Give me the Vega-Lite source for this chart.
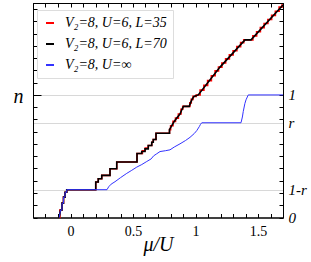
{
  "$schema": "https://vega.github.io/schema/vega-lite/v6.json",
  "width": 250,
  "height": 214.5,
  "autosize": {"type": "none"},
  "padding": {"left": 33, "top": 3, "right": 28, "bottom": 44.5},
  "config": {
    "view": {"stroke": "black", "strokeWidth": 1},
    "font": "Liberation Serif",
    "axis": {"domainColor": "black", "tickColor": "black", "domainWidth": 1, "tickWidth": 1, "labelColor": "black", "titleColor": "black", "labelFont": "Liberation Serif", "titleFont": "Liberation Serif"}
  },
  "data": {"values": [
    {"k":"a","s":"V₂=8, U=6, L=35","i":0,"mu":-0.090,"n":0},
    {"k":"a","s":"V₂=8, U=6, L=35","i":1,"mu":-0.080,"n":0.061},
    {"k":"a","s":"V₂=8, U=6, L=35","i":2,"mu":-0.068,"n":0.061},
    {"k":"a","s":"V₂=8, U=6, L=35","i":3,"mu":-0.068,"n":0.117},
    {"k":"a","s":"V₂=8, U=6, L=35","i":4,"mu":-0.056,"n":0.117},
    {"k":"a","s":"V₂=8, U=6, L=35","i":5,"mu":-0.056,"n":0.166},
    {"k":"a","s":"V₂=8, U=6, L=35","i":6,"mu":-0.044,"n":0.166},
    {"k":"a","s":"V₂=8, U=6, L=35","i":7,"mu":-0.044,"n":0.206},
    {"k":"a","s":"V₂=8, U=6, L=35","i":8,"mu":-0.030,"n":0.206},
    {"k":"a","s":"V₂=8, U=6, L=35","i":9,"mu":-0.030,"n":0.227},
    {"k":"a","s":"V₂=8, U=6, L=35","i":10,"mu":0.202,"n":0.227},
    {"k":"a","s":"V₂=8, U=6, L=35","i":11,"mu":0.202,"n":0.290},
    {"k":"a","s":"V₂=8, U=6, L=35","i":12,"mu":0.222,"n":0.290},
    {"k":"a","s":"V₂=8, U=6, L=35","i":13,"mu":0.222,"n":0.316},
    {"k":"a","s":"V₂=8, U=6, L=35","i":14,"mu":0.250,"n":0.316},
    {"k":"a","s":"V₂=8, U=6, L=35","i":15,"mu":0.250,"n":0.344},
    {"k":"a","s":"V₂=8, U=6, L=35","i":16,"mu":0.316,"n":0.344},
    {"k":"a","s":"V₂=8, U=6, L=35","i":17,"mu":0.316,"n":0.398},
    {"k":"a","s":"V₂=8, U=6, L=35","i":18,"mu":0.370,"n":0.398},
    {"k":"a","s":"V₂=8, U=6, L=35","i":19,"mu":0.370,"n":0.453},
    {"k":"a","s":"V₂=8, U=6, L=35","i":20,"mu":0.532,"n":0.453},
    {"k":"a","s":"V₂=8, U=6, L=35","i":21,"mu":0.532,"n":0.522},
    {"k":"a","s":"V₂=8, U=6, L=35","i":22,"mu":0.575,"n":0.522},
    {"k":"a","s":"V₂=8, U=6, L=35","i":23,"mu":0.575,"n":0.545},
    {"k":"a","s":"V₂=8, U=6, L=35","i":24,"mu":0.598,"n":0.545},
    {"k":"a","s":"V₂=8, U=6, L=35","i":25,"mu":0.598,"n":0.566},
    {"k":"a","s":"V₂=8, U=6, L=35","i":26,"mu":0.622,"n":0.566},
    {"k":"a","s":"V₂=8, U=6, L=35","i":27,"mu":0.622,"n":0.587},
    {"k":"a","s":"V₂=8, U=6, L=35","i":28,"mu":0.650,"n":0.587},
    {"k":"a","s":"V₂=8, U=6, L=35","i":29,"mu":0.650,"n":0.614},
    {"k":"a","s":"V₂=8, U=6, L=35","i":30,"mu":0.662,"n":0.614},
    {"k":"a","s":"V₂=8, U=6, L=35","i":31,"mu":0.662,"n":0.636},
    {"k":"a","s":"V₂=8, U=6, L=35","i":32,"mu":0.684,"n":0.636},
    {"k":"a","s":"V₂=8, U=6, L=35","i":33,"mu":0.684,"n":0.687},
    {"k":"a","s":"V₂=8, U=6, L=35","i":34,"mu":0.792,"n":0.687},
    {"k":"a","s":"V₂=8, U=6, L=35","i":35,"mu":0.792,"n":0.717},
    {"k":"a","s":"V₂=8, U=6, L=35","i":36,"mu":0.810,"n":0.749},
    {"k":"a","s":"V₂=8, U=6, L=35","i":37,"mu":0.830,"n":0.784},
    {"k":"a","s":"V₂=8, U=6, L=35","i":38,"mu":0.850,"n":0.811},
    {"k":"a","s":"V₂=8, U=6, L=35","i":39,"mu":0.876,"n":0.844},
    {"k":"a","s":"V₂=8, U=6, L=35","i":40,"mu":0.892,"n":0.883},
    {"k":"a","s":"V₂=8, U=6, L=35","i":41,"mu":0.904,"n":0.907},
    {"k":"a","s":"V₂=8, U=6, L=35","i":42,"mu":0.950,"n":0.907},
    {"k":"a","s":"V₂=8, U=6, L=35","i":43,"mu":0.960,"n":0.935},
    {"k":"a","s":"V₂=8, U=6, L=35","i":44,"mu":0.972,"n":0.964},
    {"k":"a","s":"V₂=8, U=6, L=35","i":45,"mu":0.988,"n":0.988},
    {"k":"a","s":"V₂=8, U=6, L=35","i":46,"mu":1.022,"n":1.000},
    {"k":"a","s":"V₂=8, U=6, L=35","i":47,"mu":1.052,"n":1.039},
    {"k":"a","s":"V₂=8, U=6, L=35","i":48,"mu":1.082,"n":1.078},
    {"k":"a","s":"V₂=8, U=6, L=35","i":49,"mu":1.112,"n":1.117},
    {"k":"a","s":"V₂=8, U=6, L=35","i":50,"mu":1.142,"n":1.157},
    {"k":"a","s":"V₂=8, U=6, L=35","i":51,"mu":1.172,"n":1.196},
    {"k":"a","s":"V₂=8, U=6, L=35","i":52,"mu":1.196,"n":1.227},
    {"k":"a","s":"V₂=8, U=6, L=35","i":53,"mu":1.226,"n":1.260},
    {"k":"a","s":"V₂=8, U=6, L=35","i":54,"mu":1.256,"n":1.294},
    {"k":"a","s":"V₂=8, U=6, L=35","i":55,"mu":1.286,"n":1.327},
    {"k":"a","s":"V₂=8, U=6, L=35","i":56,"mu":1.316,"n":1.360},
    {"k":"a","s":"V₂=8, U=6, L=35","i":57,"mu":1.346,"n":1.394},
    {"k":"a","s":"V₂=8, U=6, L=35","i":58,"mu":1.376,"n":1.427},
    {"k":"a","s":"V₂=8, U=6, L=35","i":59,"mu":1.396,"n":1.449},
    {"k":"a","s":"V₂=8, U=6, L=35","i":60,"mu":1.444,"n":1.449},
    {"k":"a","s":"V₂=8, U=6, L=35","i":61,"mu":1.474,"n":1.482},
    {"k":"a","s":"V₂=8, U=6, L=35","i":62,"mu":1.504,"n":1.516},
    {"k":"a","s":"V₂=8, U=6, L=35","i":63,"mu":1.534,"n":1.549},
    {"k":"a","s":"V₂=8, U=6, L=35","i":64,"mu":1.564,"n":1.583},
    {"k":"a","s":"V₂=8, U=6, L=35","i":65,"mu":1.594,"n":1.616},
    {"k":"a","s":"V₂=8, U=6, L=35","i":66,"mu":1.624,"n":1.649},
    {"k":"a","s":"V₂=8, U=6, L=35","i":67,"mu":1.654,"n":1.683},
    {"k":"a","s":"V₂=8, U=6, L=35","i":68,"mu":1.684,"n":1.716},
    {"k":"a","s":"V₂=8, U=6, L=35","i":69,"mu":1.700,"n":1.734},

    {"k":"b","s":"V₂=8, U=6, L=70","i":0,"mu":-0.090,"n":0},
    {"k":"b","s":"V₂=8, U=6, L=70","i":1,"mu":-0.080,"n":0.061},
    {"k":"b","s":"V₂=8, U=6, L=70","i":2,"mu":-0.068,"n":0.061},
    {"k":"b","s":"V₂=8, U=6, L=70","i":3,"mu":-0.068,"n":0.117},
    {"k":"b","s":"V₂=8, U=6, L=70","i":4,"mu":-0.056,"n":0.117},
    {"k":"b","s":"V₂=8, U=6, L=70","i":5,"mu":-0.056,"n":0.166},
    {"k":"b","s":"V₂=8, U=6, L=70","i":6,"mu":-0.044,"n":0.166},
    {"k":"b","s":"V₂=8, U=6, L=70","i":7,"mu":-0.044,"n":0.206},
    {"k":"b","s":"V₂=8, U=6, L=70","i":8,"mu":-0.030,"n":0.206},
    {"k":"b","s":"V₂=8, U=6, L=70","i":9,"mu":-0.030,"n":0.227},
    {"k":"b","s":"V₂=8, U=6, L=70","i":10,"mu":0.202,"n":0.227},
    {"k":"b","s":"V₂=8, U=6, L=70","i":11,"mu":0.202,"n":0.290},
    {"k":"b","s":"V₂=8, U=6, L=70","i":12,"mu":0.222,"n":0.290},
    {"k":"b","s":"V₂=8, U=6, L=70","i":13,"mu":0.222,"n":0.316},
    {"k":"b","s":"V₂=8, U=6, L=70","i":14,"mu":0.250,"n":0.316},
    {"k":"b","s":"V₂=8, U=6, L=70","i":15,"mu":0.250,"n":0.344},
    {"k":"b","s":"V₂=8, U=6, L=70","i":16,"mu":0.316,"n":0.344},
    {"k":"b","s":"V₂=8, U=6, L=70","i":17,"mu":0.316,"n":0.398},
    {"k":"b","s":"V₂=8, U=6, L=70","i":18,"mu":0.370,"n":0.398},
    {"k":"b","s":"V₂=8, U=6, L=70","i":19,"mu":0.370,"n":0.453},
    {"k":"b","s":"V₂=8, U=6, L=70","i":20,"mu":0.532,"n":0.453},
    {"k":"b","s":"V₂=8, U=6, L=70","i":21,"mu":0.532,"n":0.522},
    {"k":"b","s":"V₂=8, U=6, L=70","i":22,"mu":0.570,"n":0.522},
    {"k":"b","s":"V₂=8, U=6, L=70","i":23,"mu":0.570,"n":0.538},
    {"k":"b","s":"V₂=8, U=6, L=70","i":24,"mu":0.596,"n":0.538},
    {"k":"b","s":"V₂=8, U=6, L=70","i":25,"mu":0.596,"n":0.560},
    {"k":"b","s":"V₂=8, U=6, L=70","i":26,"mu":0.622,"n":0.560},
    {"k":"b","s":"V₂=8, U=6, L=70","i":27,"mu":0.622,"n":0.587},
    {"k":"b","s":"V₂=8, U=6, L=70","i":28,"mu":0.650,"n":0.587},
    {"k":"b","s":"V₂=8, U=6, L=70","i":29,"mu":0.650,"n":0.614},
    {"k":"b","s":"V₂=8, U=6, L=70","i":30,"mu":0.662,"n":0.614},
    {"k":"b","s":"V₂=8, U=6, L=70","i":31,"mu":0.662,"n":0.636},
    {"k":"b","s":"V₂=8, U=6, L=70","i":32,"mu":0.684,"n":0.636},
    {"k":"b","s":"V₂=8, U=6, L=70","i":33,"mu":0.684,"n":0.687},
    {"k":"b","s":"V₂=8, U=6, L=70","i":34,"mu":0.792,"n":0.687},
    {"k":"b","s":"V₂=8, U=6, L=70","i":35,"mu":0.792,"n":0.717},
    {"k":"b","s":"V₂=8, U=6, L=70","i":36,"mu":0.810,"n":0.749},
    {"k":"b","s":"V₂=8, U=6, L=70","i":37,"mu":0.830,"n":0.784},
    {"k":"b","s":"V₂=8, U=6, L=70","i":38,"mu":0.850,"n":0.811},
    {"k":"b","s":"V₂=8, U=6, L=70","i":39,"mu":0.876,"n":0.844},
    {"k":"b","s":"V₂=8, U=6, L=70","i":40,"mu":0.892,"n":0.883},
    {"k":"b","s":"V₂=8, U=6, L=70","i":41,"mu":0.904,"n":0.907},
    {"k":"b","s":"V₂=8, U=6, L=70","i":42,"mu":0.950,"n":0.907},
    {"k":"b","s":"V₂=8, U=6, L=70","i":43,"mu":0.960,"n":0.935},
    {"k":"b","s":"V₂=8, U=6, L=70","i":44,"mu":0.972,"n":0.964},
    {"k":"b","s":"V₂=8, U=6, L=70","i":45,"mu":0.988,"n":0.988},
    {"k":"b","s":"V₂=8, U=6, L=70","i":46,"mu":1.022,"n":1.000},
    {"k":"b","s":"V₂=8, U=6, L=70","i":47,"mu":1.196,"n":1.227},
    {"k":"b","s":"V₂=8, U=6, L=70","i":48,"mu":1.396,"n":1.449},
    {"k":"b","s":"V₂=8, U=6, L=70","i":49,"mu":1.444,"n":1.449},
    {"k":"b","s":"V₂=8, U=6, L=70","i":50,"mu":1.700,"n":1.734},

    {"k":"c","s":"V₂=8, U=∞","i":0,"mu":-0.090,"n":0},
    {"k":"c","s":"V₂=8, U=∞","i":1,"mu":-0.080,"n":0.061},
    {"k":"c","s":"V₂=8, U=∞","i":2,"mu":-0.068,"n":0.061},
    {"k":"c","s":"V₂=8, U=∞","i":3,"mu":-0.068,"n":0.117},
    {"k":"c","s":"V₂=8, U=∞","i":4,"mu":-0.056,"n":0.117},
    {"k":"c","s":"V₂=8, U=∞","i":5,"mu":-0.056,"n":0.166},
    {"k":"c","s":"V₂=8, U=∞","i":6,"mu":-0.044,"n":0.166},
    {"k":"c","s":"V₂=8, U=∞","i":7,"mu":-0.044,"n":0.206},
    {"k":"c","s":"V₂=8, U=∞","i":8,"mu":-0.030,"n":0.206},
    {"k":"c","s":"V₂=8, U=∞","i":9,"mu":-0.030,"n":0.227},
    {"k":"c","s":"V₂=8, U=∞","i":10,"mu":0.292,"n":0.227},
    {"k":"c","s":"V₂=8, U=∞","i":11,"mu":0.305,"n":0.250},
    {"k":"c","s":"V₂=8, U=∞","i":12,"mu":0.325,"n":0.272},
    {"k":"c","s":"V₂=8, U=∞","i":13,"mu":0.356,"n":0.292},
    {"k":"c","s":"V₂=8, U=∞","i":14,"mu":0.400,"n":0.325},
    {"k":"c","s":"V₂=8, U=∞","i":15,"mu":0.450,"n":0.360},
    {"k":"c","s":"V₂=8, U=∞","i":16,"mu":0.490,"n":0.385},
    {"k":"c","s":"V₂=8, U=∞","i":17,"mu":0.530,"n":0.411},
    {"k":"c","s":"V₂=8, U=∞","i":18,"mu":0.570,"n":0.432},
    {"k":"c","s":"V₂=8, U=∞","i":19,"mu":0.610,"n":0.457},
    {"k":"c","s":"V₂=8, U=∞","i":20,"mu":0.645,"n":0.478},
    {"k":"c","s":"V₂=8, U=∞","i":21,"mu":0.665,"n":0.503},
    {"k":"c","s":"V₂=8, U=∞","i":22,"mu":0.690,"n":0.520},
    {"k":"c","s":"V₂=8, U=∞","i":23,"mu":0.716,"n":0.538},
    {"k":"c","s":"V₂=8, U=∞","i":24,"mu":0.760,"n":0.545},
    {"k":"c","s":"V₂=8, U=∞","i":25,"mu":0.796,"n":0.552},
    {"k":"c","s":"V₂=8, U=∞","i":26,"mu":0.830,"n":0.575},
    {"k":"c","s":"V₂=8, U=∞","i":27,"mu":0.876,"n":0.601},
    {"k":"c","s":"V₂=8, U=∞","i":28,"mu":0.920,"n":0.628},
    {"k":"c","s":"V₂=8, U=∞","i":29,"mu":0.956,"n":0.654},
    {"k":"c","s":"V₂=8, U=∞","i":30,"mu":0.990,"n":0.685},
    {"k":"c","s":"V₂=8, U=∞","i":31,"mu":1.010,"n":0.709},
    {"k":"c","s":"V₂=8, U=∞","i":32,"mu":1.030,"n":0.741},
    {"k":"c","s":"V₂=8, U=∞","i":33,"mu":1.040,"n":0.760},
    {"k":"c","s":"V₂=8, U=∞","i":34,"mu":1.050,"n":0.773},
    {"k":"c","s":"V₂=8, U=∞","i":35,"mu":1.364,"n":0.773},
    {"k":"c","s":"V₂=8, U=∞","i":36,"mu":1.375,"n":0.820},
    {"k":"c","s":"V₂=8, U=∞","i":37,"mu":1.382,"n":0.865},
    {"k":"c","s":"V₂=8, U=∞","i":38,"mu":1.395,"n":0.930},
    {"k":"c","s":"V₂=8, U=∞","i":39,"mu":1.404,"n":0.960},
    {"k":"c","s":"V₂=8, U=∞","i":40,"mu":1.422,"n":1.000},
    {"k":"c","s":"V₂=8, U=∞","i":41,"mu":1.700,"n":1.000}
  ]},
  "layer": [
    {
      "transform": [{"filter": "datum.k == 'a'"}],
      "mark": {"type": "line", "interpolate": "step", "strokeWidth": 1.6},
      "encoding": {
        "x": {"field": "mu", "type": "quantitative",
          "scale": {"domain": [-0.3, 1.7], "nice": false, "zero": false},
          "axis": {"orient": "bottom",
            "values": [-0.3,-0.2,-0.1,0,0.1,0.2,0.3,0.4,0.5,0.6,0.7,0.8,0.9,1,1.1,1.2,1.3,1.4,1.5,1.6,1.7],
            "labelExpr": "datum.value == 0 ? '0' : datum.value == 0.5 ? '0.5' : datum.value == 1 ? '1' : datum.value == 1.5 ? '1.5' : ''",
            "labelFontSize": 14, "labelPadding": 11, "labelOverlap": false, "labelFlush": false,
            "tickSize": -4, "grid": false,
            "title": "μ/U", "titleFontSize": 20, "titleFontStyle": "italic", "titleFontWeight": "normal",
            "titleBaseline": "alphabetic", "titleY": 33}},
        "y": {"field": "n", "type": "quantitative",
          "scale": {"domain": [0, 1.75], "nice": false, "zero": false},
          "axis": {"orient": "left",
            "values": [0,0.1,0.2,0.227,0.3,0.4,0.5,0.6,0.7,0.773,0.8,0.9,1,1.1,1.2,1.3,1.4,1.5,1.6,1.7],
            "labels": false,
            "grid": true, "gridColor": "#d8d8d8", "gridWidth": 1,
            "gridOpacity": {"condition": {"test": "datum.value == 1 || datum.value == 0.773 || datum.value == 0.227", "value": 1}, "value": 0},
            "tickOpacity": {"condition": {"test": "datum.value == 0.773 || datum.value == 0.227", "value": 0}, "value": 1},
            "tickSize": {"condition": {"test": "datum.value == 1", "value": -8}, "value": -4},
            "title": "n", "titleAngle": 0, "titleFontSize": 20, "titleFontStyle": "italic", "titleFontWeight": "normal",
            "titleAlign": "center", "titleBaseline": "alphabetic", "titleX": -15, "titleY": 99}},
        "color": {"field": "s", "type": "nominal",
          "scale": {"domain": ["V₂=8, U=6, L=35", "V₂=8, U=6, L=70", "V₂=8, U=∞"], "range": ["#ff0000", "#000000", "#3333ff"]},
          "legend": {"orient": "none", "legendX": 4, "legendY": 7, "title": null,
            "labelFont": "Liberation Serif", "labelFontStyle": "italic", "labelFontSize": 14, "labelColor": "black",
            "symbolType": "stroke", "symbolSize": 64, "symbolStrokeWidth": 2,
            "strokeColor": "#dddddd", "fillColor": "white", "padding": 6, "rowPadding": 7, "labelOffset": 8}},
        "order": {"field": "i", "type": "quantitative"}
      }
    },
    {
      "transform": [{"filter": "datum.k == 'b'"}],
      "mark": {"type": "line", "strokeWidth": 1.6},
      "encoding": {
        "x": {"field": "mu", "type": "quantitative", "axis": null},
        "y": {"field": "n", "type": "quantitative", "axis": null},
        "color": {"field": "s", "type": "nominal"},
        "order": {"field": "i", "type": "quantitative"}
      }
    },
    {
      "transform": [{"filter": "datum.k == 'c'"}],
      "mark": {"type": "line", "strokeWidth": 1},
      "encoding": {
        "x": {"field": "mu", "type": "quantitative", "axis": null},
        "y": {"field": "n", "type": "quantitative", "axis": null},
        "color": {"field": "s", "type": "nominal"},
        "order": {"field": "i", "type": "quantitative"}
      }
    },
    {
      "transform": [{"filter": "datum.k == 'c'"}],
      "mark": {"type": "line", "strokeOpacity": 0, "color": "white"},
      "encoding": {
        "x": {"field": "mu", "type": "quantitative",
          "axis": {"orient": "top",
            "values": [-0.3,-0.2,-0.1,0,0.1,0.2,0.3,0.4,0.5,0.6,0.7,0.8,0.9,1,1.1,1.2,1.3,1.4,1.5,1.6,1.7],
            "labels": false, "tickSize": -4, "grid": false, "title": null}},
        "y": {"field": "n", "type": "quantitative",
          "axis": {"orient": "right",
            "values": [0,0.1,0.2,0.227,0.3,0.4,0.5,0.6,0.7,0.773,0.8,0.9,1,1.1,1.2,1.3,1.4,1.5,1.6,1.7],
            "labelExpr": "datum.value == 1 ? '1' : datum.value == 0.773 ? 'r' : datum.value == 0.227 ? '1-r' : datum.value == 0 ? '0' : ''",
            "labelFontSize": 15, "labelFontStyle": "italic", "labelPadding": 9, "labelOverlap": false, "labelFlush": false,
            "labelBaseline": "middle",
            "tickOpacity": {"condition": {"test": "datum.value == 0.773 || datum.value == 0.227", "value": 0}, "value": 1},
            "tickSize": -4, "grid": false, "title": null}},
        "order": {"field": "i", "type": "quantitative"}
      }
    }
  ],
  "resolve": {"axis": {"x": "independent", "y": "independent"}}
}
